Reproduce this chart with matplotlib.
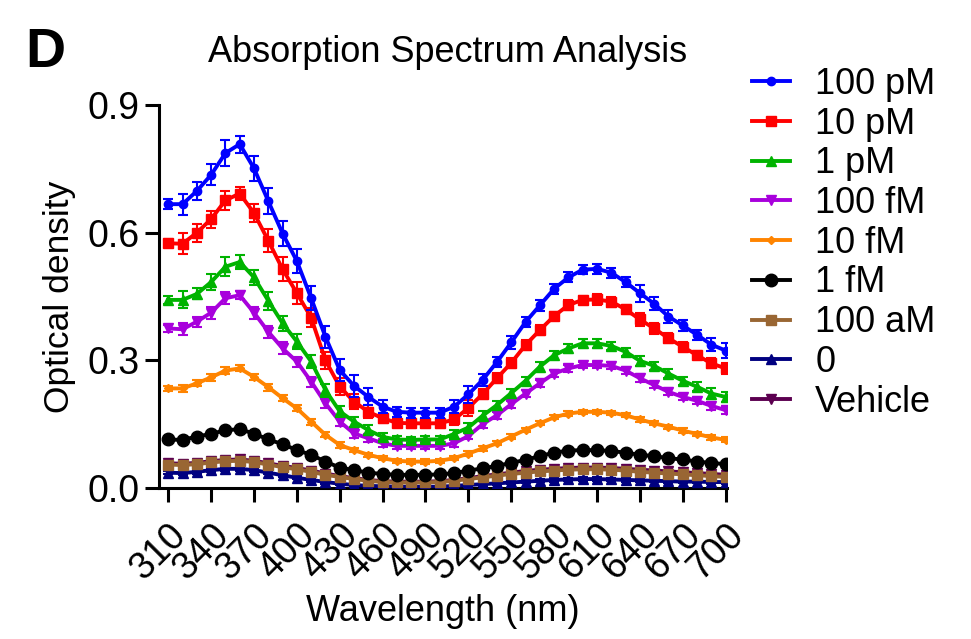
import numpy as np
import matplotlib
matplotlib.use("Agg")
import matplotlib.pyplot as plt
from matplotlib.lines import Line2D

plt.rcParams['font.family'] = ['Liberation Sans', 'DejaVu Sans']

# wavelengths in nm, one reading every 10 nm
wavelength = np.arange(310, 701, 10)

labels = ["100 pM", "10 pM", "1 pM", "100 fM", "10 fM", "1 fM", "100 aM", "0", "Vehicle"]
colors = ["#0000FF", "#FF0000", "#00B300", "#A800DC", "#FF8400", "#000000", "#996633", "#000080", "#5C0050"]
markers = ["o", "s", "^", "v", "D", "o", "s", "^", "v"]
msizes = [6, 6.5, 7, 7, 4.5, 9, 6.5, 7, 7]

# mean optical density
od_100pM = [0.667, 0.667, 0.698, 0.736, 0.787, 0.808, 0.751, 0.674, 0.598, 0.533,
            0.446, 0.355, 0.277, 0.240, 0.214, 0.191, 0.179, 0.177, 0.177, 0.177,
            0.191, 0.220, 0.254, 0.296, 0.342, 0.390, 0.429, 0.468, 0.495, 0.513,
            0.515, 0.506, 0.484, 0.458, 0.433, 0.403, 0.382, 0.360, 0.337, 0.323]
od_10pM = [0.575, 0.574, 0.600, 0.632, 0.676, 0.692, 0.646, 0.581, 0.514, 0.458,
           0.400, 0.300, 0.238, 0.203, 0.179, 0.164, 0.153, 0.152, 0.152, 0.152,
           0.161, 0.188, 0.221, 0.258, 0.294, 0.336, 0.371, 0.404, 0.430, 0.442,
           0.443, 0.438, 0.420, 0.396, 0.375, 0.352, 0.332, 0.312, 0.293, 0.281]
od_1pM = [0.442, 0.442, 0.456, 0.484, 0.520, 0.531, 0.495, 0.440, 0.387, 0.344,
          0.297, 0.230, 0.180, 0.156, 0.136, 0.120, 0.114, 0.113, 0.114, 0.114,
          0.127, 0.142, 0.170, 0.195, 0.223, 0.252, 0.285, 0.312, 0.328, 0.340,
          0.340, 0.334, 0.320, 0.299, 0.287, 0.269, 0.252, 0.238, 0.222, 0.214]
od_100fM = [0.375, 0.373, 0.391, 0.412, 0.446, 0.453, 0.412, 0.367, 0.328, 0.297,
            0.250, 0.199, 0.156, 0.128, 0.117, 0.105, 0.099, 0.099, 0.099, 0.099,
            0.105, 0.122, 0.150, 0.171, 0.197, 0.222, 0.246, 0.269, 0.281, 0.289,
            0.289, 0.287, 0.276, 0.258, 0.242, 0.226, 0.214, 0.205, 0.193, 0.183]
od_10fM = [0.234, 0.234, 0.246, 0.260, 0.276, 0.281, 0.261, 0.237, 0.211, 0.187,
           0.156, 0.125, 0.101, 0.089, 0.078, 0.070, 0.064, 0.062, 0.062, 0.064,
           0.070, 0.081, 0.093, 0.105, 0.121, 0.137, 0.152, 0.166, 0.175, 0.179,
           0.179, 0.177, 0.171, 0.161, 0.152, 0.144, 0.135, 0.127, 0.119, 0.113]
od_1fM = [0.114, 0.113, 0.121, 0.127, 0.136, 0.138, 0.128, 0.114, 0.103, 0.089,
          0.078, 0.062, 0.048, 0.042, 0.036, 0.033, 0.031, 0.031, 0.031, 0.032,
          0.035, 0.041, 0.046, 0.052, 0.059, 0.066, 0.075, 0.083, 0.088, 0.089,
          0.089, 0.087, 0.083, 0.078, 0.075, 0.070, 0.067, 0.062, 0.059, 0.056]
od_100aM = [0.055, 0.054, 0.056, 0.060, 0.063, 0.064, 0.061, 0.055, 0.049, 0.044,
            0.038, 0.031, 0.026, 0.021, 0.017, 0.014, 0.013, 0.013, 0.013, 0.014,
            0.017, 0.021, 0.025, 0.029, 0.033, 0.036, 0.039, 0.041, 0.043, 0.044,
            0.044, 0.043, 0.041, 0.038, 0.036, 0.034, 0.032, 0.030, 0.028, 0.026]
od_zero = [0.036, 0.035, 0.038, 0.042, 0.045, 0.045, 0.042, 0.036, 0.030, 0.024,
           0.019, 0.014, 0.010, 0.007, 0.005, 0.004, 0.003, 0.003, 0.003, 0.003,
           0.005, 0.007, 0.009, 0.011, 0.013, 0.015, 0.017, 0.019, 0.020, 0.021,
           0.021, 0.020, 0.019, 0.018, 0.017, 0.016, 0.015, 0.015, 0.014, 0.014]
od_vehicle = [0.058, 0.057, 0.059, 0.063, 0.066, 0.067, 0.064, 0.058, 0.052, 0.047,
              0.041, 0.034, 0.028, 0.023, 0.019, 0.016, 0.015, 0.015, 0.015, 0.016,
              0.019, 0.023, 0.028, 0.032, 0.036, 0.040, 0.043, 0.045, 0.047, 0.048,
              0.048, 0.047, 0.045, 0.043, 0.041, 0.039, 0.037, 0.035, 0.033, 0.031]

# error bar half-lengths (SEM)
err_100pM = [0.012, 0.025, 0.022, 0.025, 0.030, 0.020, 0.030, 0.030, 0.030, 0.028,
             0.028, 0.025, 0.025, 0.025, 0.020, 0.015, 0.012, 0.012, 0.012, 0.012,
             0.015, 0.020, 0.015, 0.012, 0.015, 0.012, 0.012, 0.012, 0.012, 0.010,
             0.012, 0.012, 0.012, 0.020, 0.015, 0.015, 0.012, 0.012, 0.015, 0.018]
err_10pM = [0.009, 0.025, 0.021, 0.020, 0.022, 0.015, 0.021, 0.027, 0.028, 0.025,
            0.022, 0.020, 0.020, 0.018, 0.015, 0.012, 0.010, 0.010, 0.010, 0.010,
            0.012, 0.018, 0.012, 0.012, 0.012, 0.012, 0.012, 0.010, 0.012, 0.010,
            0.012, 0.012, 0.010, 0.015, 0.012, 0.012, 0.010, 0.010, 0.012, 0.012]
err_1pM = [0.010, 0.020, 0.013, 0.018, 0.022, 0.016, 0.018, 0.021, 0.018, 0.018,
           0.015, 0.015, 0.012, 0.012, 0.012, 0.010, 0.008, 0.008, 0.008, 0.008,
           0.010, 0.010, 0.010, 0.010, 0.010, 0.010, 0.010, 0.010, 0.010, 0.010,
           0.010, 0.010, 0.010, 0.012, 0.010, 0.010, 0.010, 0.010, 0.012, 0.012]
err_100fM = [0.008, 0.014, 0.012, 0.014, 0.014, 0.010, 0.014, 0.014, 0.014, 0.012,
             0.012, 0.012, 0.010, 0.010, 0.010, 0.008, 0.008, 0.008, 0.008, 0.008,
             0.008, 0.008, 0.008, 0.008, 0.008, 0.008, 0.008, 0.008, 0.008, 0.008,
             0.008, 0.008, 0.008, 0.010, 0.008, 0.008, 0.008, 0.008, 0.010, 0.010]
err_10fM = [0.006, 0.008, 0.007, 0.008, 0.008, 0.007, 0.008, 0.008, 0.007, 0.007,
            0.007, 0.006, 0.006, 0.005, 0.005, 0.005, 0.005, 0.005, 0.005, 0.005,
            0.005, 0.005, 0.005, 0.005, 0.005, 0.005, 0.005, 0.005, 0.005, 0.005,
            0.005, 0.005, 0.005, 0.006, 0.005, 0.005, 0.005, 0.005, 0.006, 0.006]
err_low = [0.004] * 40

series = [od_100pM, od_10pM, od_1pM, od_100fM, od_10fM, od_1fM, od_100aM, od_zero, od_vehicle]
errors = [err_100pM, err_10pM, err_1pM, err_100fM, err_10fM, err_low, err_low, err_low, err_low]

fig = plt.figure(figsize=(9.71, 6.39), dpi=100)
ax = fig.add_axes([159 / 971, 151 / 639, 568 / 971, 383 / 639])

# draw last series first so the high concentrations sit on top
for i in reversed(range(len(series))):
    ax.errorbar(wavelength, series[i], yerr=errors[i], color=colors[i], lw=2.8,
                marker=markers[i], ms=msizes[i], capsize=3.5, capthick=1.5,
                elinewidth=1.5, zorder=10 - i)

ax.set_xlim(303.5, 701)
ax.set_ylim(0, 0.9)
ax.set_yticks([0.0, 0.3, 0.6, 0.9])
ax.set_yticklabels(["0.0", "0.3", "0.6", "0.9"])
ax.set_xticks(np.arange(310, 701, 30))
ax.set_xticklabels([str(v) for v in range(310, 701, 30)], rotation=45,
                   ha="right", va="top", rotation_mode="anchor")

for side in ["top", "right"]:
    ax.spines[side].set_visible(False)
for side in ["left", "bottom"]:
    ax.spines[side].set_linewidth(2.2)
ax.tick_params(axis="both", width=2.2, length=10, labelsize=27)
ax.tick_params(axis="y", pad=4)
ax.tick_params(axis="x", pad=11)

ax.set_ylabel("Optical density", fontsize=25.5, labelpad=8)
ax.set_xlabel("Wavelength (nm)", fontsize=26, labelpad=5)
ax.set_title("Absorption Spectrum Analysis", fontsize=26, pad=31, x=(448 - 159) / 568)

fig.text(25 / 971, 1 - 67 / 639, "D", fontsize=40, fontweight="bold")

handles = [Line2D([], [], color=colors[i], lw=2.8, marker=markers[i], ms=msizes[i])
           for i in range(len(labels))]
leg = ax.legend(handles, labels, loc="upper left", bbox_to_anchor=(752 / 971, 1 - 67 / 639),
                bbox_transform=fig.transFigure, frameon=False, fontsize=26,
                handlelength=1.05, handletextpad=0.7, labelspacing=0.13, borderpad=0,
                borderaxespad=0)

fig.savefig("out.png", dpi=100)
